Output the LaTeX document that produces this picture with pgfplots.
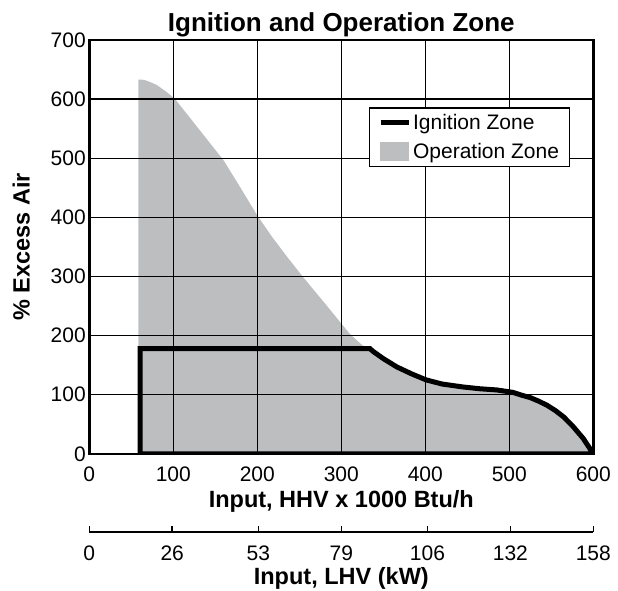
\documentclass[border=0pt]{standalone}
\usepackage{fontspec}
\setmainfont{Liberation Sans}
\usepackage{pgfplots}
\pgfplotsset{compat=1.18}
\definecolor{opgray}{RGB}{188,190,192}
\pgfplotsset{
  ignleg/.style={legend image code/.code={\draw[black,line width=5pt] (0pt,0pt) -- (28pt,0pt);}},
  opleg/.style={legend image code/.code={\fill[opgray] (0pt,-8.5pt) rectangle (28pt,8.5pt);}},
}

\begin{document}
\begin{tikzpicture}
\useasboundingbox (-89.3pt,-136.2pt) rectangle (528.7pt,453.8pt);
\begin{axis}[
  at={(0pt,0pt)}, anchor=south west,
  scale only axis, width=504pt, height=413.9pt,
  xmin=0, xmax=600, ymin=0, ymax=700,
  xtick={0,100,...,600}, ytick={0,100,...,700},
  grid=major, major grid style={black, line width=1.2pt},
  major tick length=0pt,
  axis line style={black, line width=2.5pt},
  axis on top,
  /pgf/number format/assume math mode=true,
  ticklabel style={font=\fontsize{21}{25}\selectfont},
  xticklabel shift=9pt,
  every axis title shift=-1pt,
  title={Ignition and Operation Zone},
  title style={font=\fontsize{26}{30}\selectfont\bfseries},
  xlabel={Input, HHV x 1000 Btu/h},
  xlabel shift=2pt,
  ylabel={\% Excess Air},
  ylabel shift=14pt,
  label style={font=\fontsize{23.5}{28}\selectfont\bfseries},
  legend style={at={(0.954,0.837)}, anchor=north east, draw=black, line width=1.2pt,
     font=\fontsize{21}{25}\selectfont, inner xsep=8.5pt, inner ysep=4.5pt, row sep=8pt,
     /tikz/every even column/.append style={column sep=9pt}},
  legend cell align=left,
]
\addlegendimage{ignleg}
\addlegendentry{Ignition Zone}
\addlegendimage{opleg}
\addlegendentry{Operation Zone}

% Operation zone
\addplot[fill=opgray, draw=none, forget plot] coordinates {
(58.5,0) (58.5,633) (65,632.5) (72,629) (80,624) (92,612) (102,600) (120,568)
(140,532) (160,496) (180,450) (200,403) (217,368) (235,334) (255,298) (283,250)
(310,203) (320,190) (328,180) (334,178) (338,173) (350,161)
(366,147) (384,135) (401,125) (420,118) (445,113) (465,110) (485,108) (504,104)
(515,99) (525,95) (535,89) (545,82) (555,73) (565,62) (576,46) (588,26) (600,0)
} -- cycle;

% Ignition zone
\addplot[black, line width=5pt, miter limit=20, forget plot] coordinates {
(60.5,0) (60.5,178) (334,178) (338,173) (350,161)
(366,147) (384,135) (401,125) (420,118) (445,113) (465,110) (485,108) (504,104)
(515,99) (525,95) (535,89) (545,82) (555,73) (565,62) (576,46) (588,26) (600,0)
} -- cycle;
\end{axis}

\begin{axis}[
  at={(0pt,-78pt)}, anchor=south west,
  scale only axis, width=504pt, height=10pt,
  xmin=0, xmax=158, ymin=0, ymax=1,
  axis x line*=bottom, axis y line=none,
  axis line style={-, black, line width=1.5pt},
  xtick={0,26,53,79,106,132,158},
  tick style={black, line width=1.5pt},
  major tick length=6pt, tick align=inside,
  /pgf/number format/assume math mode=true,
  ticklabel style={font=\fontsize{21}{25}\selectfont},
  xticklabel shift=10pt,
  xlabel={Input, LHV (kW)},
  label style={font=\fontsize{23.5}{28}\selectfont\bfseries},
]
\addplot[draw=none] coordinates {(0,0)};
\end{axis}
\end{tikzpicture}
\end{document}
